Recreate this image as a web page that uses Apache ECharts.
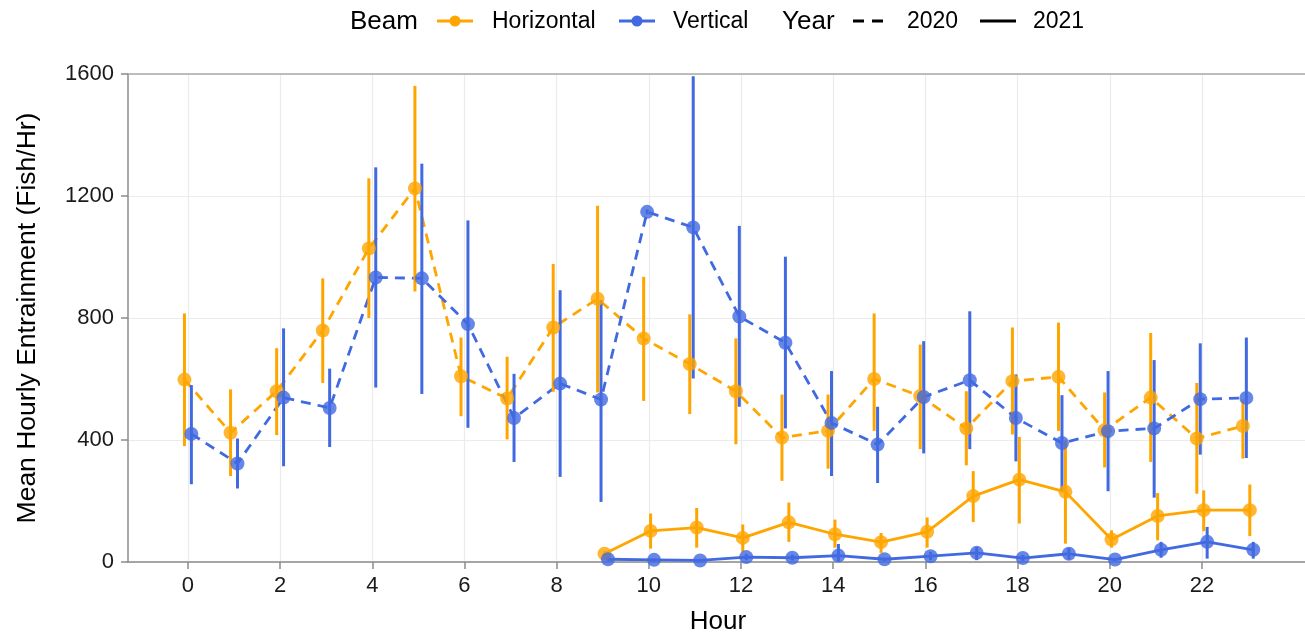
<!DOCTYPE html>
<html>
<head>
<meta charset="utf-8">
<title>Mean Hourly Entrainment</title>
<script src="https://cdn.jsdelivr.net/npm/echarts@6/dist/echarts.min.js"></script>
<style>
  html, body { margin: 0; padding: 0; background: #ffffff; }
  #chart { width: 1305px; height: 635px; }
</style>
</head>
<body>
<div id="chart"></div>
<script>
// Hours of the day and x tick labels
const hours = [0,1,2,3,4,5,6,7,8,9,10,11,12,13,14,15,16,17,18,19,20,21,22,23];
const xTicks = [0,2,4,6,8,10,12,14,16,18,20,22];
const yTicks = [0,400,800,1200,1600];

// 2020, horizontal beam: mean and interval bounds (hours 0-23)
const horiz2020Mean  = [598, 424, 560, 759, 1028, 1225, 609, 536, 769, 863, 733, 649, 560, 408, 430, 600, 544, 438, 593, 607, 432, 539, 405, 446];
const horiz2020Lower = [380, 282, 416, 587, 800, 887, 478, 402, 558, 556, 528, 485, 386, 266, 306, 430, 370, 317, 418, 430, 310, 328, 224, 339];
const horiz2020Upper = [815, 566, 701, 930, 1258, 1561, 736, 673, 977, 1168, 935, 812, 733, 549, 549, 815, 713, 560, 769, 785, 556, 751, 587, 533];

// 2020, vertical beam (hours 0-23)
const vert2020Mean  = [420, 323, 539, 505, 933, 930, 780, 472, 585, 533, 1148, 1097, 805, 719, 456, 385, 541, 596, 472, 390, 429, 438, 534, 538];
const vert2020Lower = [255, 241, 314, 377, 572, 551, 440, 328, 279, 197, 1140, 602, 509, 438, 282, 259, 356, 370, 330, 235, 232, 211, 352, 341];
const vert2020Upper = [580, 405, 766, 634, 1294, 1306, 1120, 617, 891, 859, 1156, 1593, 1102, 1001, 626, 509, 724, 822, 615, 547, 626, 662, 717, 736];

// 2021 covers hours 9-23 only
const hours2021 = [9,10,11,12,13,14,15,16,17,18,19,20,21,22,23];
const horiz2021Mean  = [27, 102, 113, 79, 130, 91, 65, 99, 216, 270, 230, 74, 151, 170, 170];
const horiz2021Lower = [18, 44, 47, 33, 66, 47, 30, 47, 131, 126, 60, 47, 71, 101, 85];
const horiz2021Upper = [36, 159, 177, 123, 195, 139, 95, 146, 298, 410, 399, 104, 226, 235, 254];

const vert2021Mean  = [9, 7, 5, 16, 14, 21, 9, 19, 30, 13, 27, 8, 40, 66, 40];
const vert2021Lower = [4, 3, 2, 6, 5, 3, 4, 6, 6, 4, 8, 3, 14, 11, 11];
const vert2021Upper = [14, 11, 8, 27, 24, 59, 14, 33, 49, 23, 46, 13, 66, 115, 66];

const ORANGE = '#FFA500';
const BLUE = '#4169E1';
const FONT = "'Liberation Sans', Arial, sans-serif";
const DODGE = 0.3;

// Groups in dodge order
const groups = [
  { name: 'Horizontal 2020', color: ORANGE, dashed: true,  x: hours,     mean: horiz2020Mean, lo: horiz2020Lower, hi: horiz2020Upper },
  { name: 'Vertical 2020',   color: BLUE,   dashed: true,  x: hours,     mean: vert2020Mean,  lo: vert2020Lower,  hi: vert2020Upper },
  { name: 'Horizontal 2021', color: ORANGE, dashed: false, x: hours2021, mean: horiz2021Mean, lo: horiz2021Lower, hi: horiz2021Upper },
  { name: 'Vertical 2021',   color: BLUE,   dashed: false, x: hours2021, mean: vert2021Mean,  lo: vert2021Lower,  hi: vert2021Upper }
];

// Dodge: spread the groups present at each hour across a fixed width
function dodged(hour, gi) {
  const present = groups.map((g, i) => g.x.indexOf(hour) >= 0 ? i : -1).filter(i => i >= 0);
  const n = present.length;
  const slot = present.indexOf(gi);
  return hour + DODGE * ((slot + 0.5) / n - 0.5);
}

const series = [];
// Connecting lines
groups.forEach((g, gi) => {
  series.push({
    type: 'line', name: g.name + ' line', z: 1, silent: true,
    symbol: 'none',
    lineStyle: { color: g.color, width: 2.8, type: g.dashed ? [10, 7] : 'solid' },
    data: g.x.map((h, i) => [dodged(h, gi), g.mean[i]])
  });
});
// Interval bars
groups.forEach((g, gi) => {
  series.push({
    type: 'custom', name: g.name + ' range', z: 2, silent: true,
    encode: { x: 0, y: [1, 2] },
    data: g.x.map((h, i) => [dodged(h, gi), g.lo[i], g.hi[i]]),
    renderItem: function (params, api) {
      const a = api.coord([api.value(0), api.value(1)]);
      const b = api.coord([api.value(0), api.value(2)]);
      return {
        type: 'line',
        shape: { x1: a[0], y1: a[1], x2: b[0], y2: b[1] },
        style: { stroke: g.color, lineWidth: 3 }
      };
    }
  });
});
// Mean points
groups.forEach((g, gi) => {
  series.push({
    type: 'scatter', name: g.name, z: 3, silent: true,
    symbol: 'circle', symbolSize: 14,
    itemStyle: { color: g.color },
    data: g.x.map((h, i) => [dodged(h, gi), g.mean[i]])
  });
});

const AXIS_GREY = '#8c8c8c';
const GRID_GREY = '#ebebeb';

// Legend drawn as graphic elements along the top
const legendY = 21;
function legendText(x, text, size) {
  return { type: 'text', x: x, y: legendY + 1,
    style: { text: text, font: size + 'px ' + FONT, fill: '#000000', align: 'left', verticalAlign: 'middle' } };
}
function legendKey(x1, x2, color, dash, dot) {
  const els = [{ type: 'line', shape: { x1: x1, y1: legendY, x2: x2, y2: legendY },
    style: { stroke: color, lineWidth: 3, lineDash: dash || null } }];
  if (dot) els.push({ type: 'circle', shape: { cx: (x1 + x2) / 2, cy: legendY, r: 5.5 }, style: { fill: color } });
  return els;
}
const graphics = [].concat(
  [legendText(350, 'Beam', 26)],
  legendKey(437, 473, ORANGE, null, true),
  [legendText(492, 'Horizontal', 23)],
  legendKey(619, 655, BLUE, null, true),
  [legendText(673, 'Vertical', 23)],
  [legendText(782, 'Year', 26)],
  legendKey(853, 890, '#000000', [11, 8], false),
  [legendText(907, '2020', 23)],
  legendKey(980, 1016, '#000000', null, false),
  [legendText(1033, '2021', 23)]
);

const chart = echarts.init(document.getElementById('chart'), null, { renderer: 'canvas' });
chart.setOption({
  backgroundColor: '#ffffff',
  animation: false,
  textStyle: { fontFamily: FONT },
  grid: { left: 128, top: 74, width: 1180, height: 488, containLabel: false, outerBoundsMode: 'none' },
  xAxis: [{
    type: 'value', min: -1.3, max: 24.3,
    name: 'Hour', nameLocation: 'middle', nameGap: 47,
    nameTextStyle: { fontSize: 26, color: '#000000', fontFamily: FONT },
    axisLine: { show: true, onZero: false, lineStyle: { color: AXIS_GREY, width: 1.5 } },
    axisTick: { show: true, length: 7, customValues: xTicks, lineStyle: { color: AXIS_GREY, width: 1.5 } },
    axisLabel: { show: true, customValues: xTicks, margin: 13, fontSize: 22, color: '#1a1a1a', fontFamily: FONT },
    splitLine: { show: true, lineStyle: { color: GRID_GREY, width: 1.2 } }
  }, {
    type: 'value', min: -1.3, max: 24.3, position: 'top',
    axisLine: { show: true, onZero: false, lineStyle: { color: '#aaaaaa', width: 1.5 } },
    axisTick: { show: false }, axisLabel: { show: false }, splitLine: { show: false }
  }],
  yAxis: {
    type: 'value', min: 0, max: 1600, interval: 400,
    name: 'Mean Hourly Entrainment (Fish/Hr)', nameLocation: 'middle', nameGap: 87,
    nameTextStyle: { fontSize: 26.5, color: '#000000', fontFamily: FONT },
    axisLine: { show: true, onZero: false, lineStyle: { color: AXIS_GREY, width: 1.5 } },
    axisTick: { show: true, length: 7, lineStyle: { color: AXIS_GREY, width: 1.5 } },
    axisLabel: { margin: 14, fontSize: 22, color: '#1a1a1a', fontFamily: FONT,
      formatter: v => yTicks.indexOf(v) >= 0 ? String(v) : '' },
    splitLine: { show: true, lineStyle: { color: GRID_GREY, width: 1.2 } }
  },
  graphic: graphics,
  series: series
});
</script>
</body>
</html>
